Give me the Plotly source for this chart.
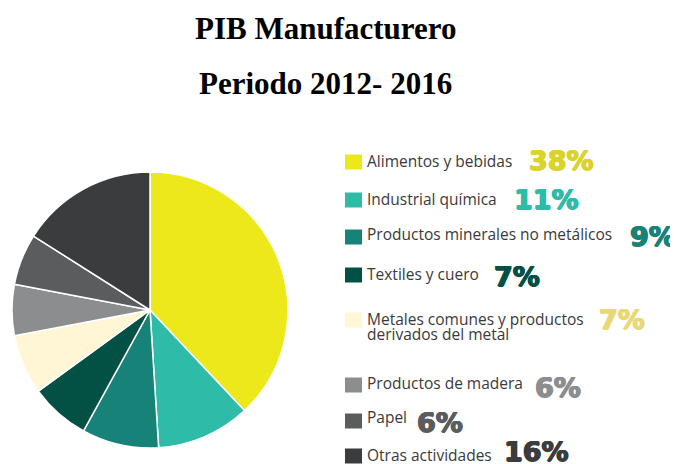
import plotly.graph_objects as go

categories = ["Alimentos y bebidas", "Industrial química", "Productos minerales no metálicos",
              "Textiles y cuero", "Metales comunes y productos<br>derivados del metal",
              "Productos de madera", "Papel", "Otras actividades"]
values = [38, 11, 9, 7, 7, 6, 6, 16]
pct_labels = ["38%", "11%", "9%", "7%", "7%", "6%", "6%", "16%"]

slice_colors = ["#ECE819", "#2EBCA9", "#178277", "#035045", "#FFF6D6", "#8C8D8E", "#5B5C5E", "#3B3C3E"]
pct_colors = ["#DAD32C", "#2EBCA9", "#178277", "#035045", "#EAD877", "#8C8D8E", "#5B5C5E", "#3B3C3E"]

W, H = 678, 464
OFF = 8  # page body margin


def px(x):
    return (x - OFF) / W


def py(y):
    return 1 - (y - OFF) / H


fig = go.Figure(go.Pie(
    labels=categories, values=values, sort=False, direction="clockwise", rotation=0,
    marker=dict(colors=slice_colors, line=dict(color="white", width=1.5)),
    textinfo="none", hoverinfo="label+percent", showlegend=False,
    domain=dict(x=[px(12), px(288)], y=[py(448), py(172)]),
))

# legend layout (pixel positions in the page)
square_y = [162, 200, 237, 275, 320, 385, 421, 456]
label_y = [161, 199, 234, 274, 319, 383, 417, 455]
pct_x = [527, 512, 628, 492, 597, 533, 415, 502]
pct_y = [160, 200, 236, 276, 319, 387, 422, 451]
LINE_GAP = 15

shapes = []
annotations = []
for i, (lab, pct) in enumerate(zip(categories, pct_labels)):
    shapes.append(dict(type="rect", xref="paper", yref="paper",
                       x0=px(345), x1=px(362), y0=py(square_y[i] + 7.5), y1=py(square_y[i] - 7.5),
                       fillcolor=slice_colors[i], line=dict(width=0)))
    for k, line in enumerate(lab.split("<br>")):
        annotations.append(dict(x=px(365), y=py(label_y[i] + k * LINE_GAP), xref="paper", yref="paper",
                                xanchor="left", yanchor="middle", text=line, showarrow=False,
                                font=dict(family="Open Sans", size=15.5, color="#3A3A3A")))
    c = pct_colors[i]
    annotations.append(dict(x=px(pct_x[i]), y=py(pct_y[i]), xref="paper", yref="paper",
                            xanchor="left", yanchor="middle", text="<b>%s</b>" % pct, showarrow=False,
                            font=dict(family="DejaVu Sans", size=27, color=c,
                                      shadow="0.7px 0 0 %s, -0.7px 0 0 %s, 0 0.5px 0 %s, 0 -0.5px 0 %s"
                                      % (c, c, c, c))))

annotations.append(dict(x=px(325), y=py(28), xref="paper", yref="paper", showarrow=False,
                        text="<b>PIB Manufacturero</b>", xanchor="center", yanchor="middle",
                        font=dict(family="Liberation Serif", size=31, color="black")))
annotations.append(dict(x=px(325), y=py(83), xref="paper", yref="paper", showarrow=False,
                        text="<b>Periodo 2012- 2016</b>", xanchor="center", yanchor="middle",
                        font=dict(family="Liberation Serif", size=31, color="black")))

fig.update_layout(width=W, height=H, margin=dict(l=0, r=0, t=0, b=0),
                  paper_bgcolor="white", plot_bgcolor="white",
                  shapes=shapes, annotations=annotations)
fig.write_html("out.html")
